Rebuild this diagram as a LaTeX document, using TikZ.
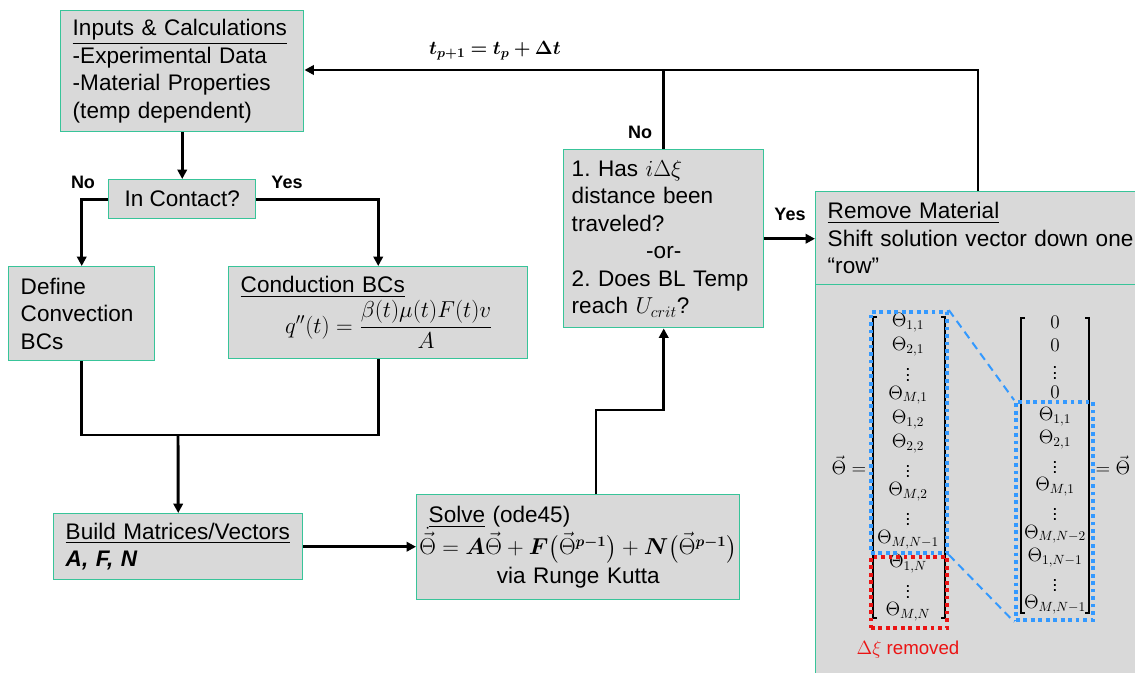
\documentclass[tikz,border=0pt]{standalone}
\usepackage[no-math]{fontspec}
\setmainfont{Liberation Sans}
\usepackage{amsmath,bm}
\usetikzlibrary{arrows.meta,fit,calc}
\definecolor{boxfill}{RGB}{217,217,217}
\definecolor{boxedge}{RGB}{56,196,153}
\definecolor{selblue}{RGB}{51,153,255}
\definecolor{selred}{RGB}{235,20,20}
\newcommand{\midline}[1]{\makebox[\linewidth][c]{#1}}

\begin{document}
\frenchspacing
\begin{tikzpicture}[x=0.75pt,y=-0.75pt,
  box/.style={draw=boxedge, fill=boxfill, line width=1.1pt, anchor=north west,
    inner xsep=9pt, inner ysep=2pt, align=left,
    font=\fontsize{16.9}{20.6}\selectfont},
  link/.style={draw=black, line width=2.2pt},
  arr/.style={link, -{Triangle[length=7pt,width=7pt]}},
  lab/.style={font=\bfseries\fontsize{13.5}{16}\selectfont, inner sep=1pt},
  ent/.style={font=\fontsize{14}{16}\selectfont, inner sep=0pt},
  bracket/.style={draw=black, line width=1.1pt},
  bluedot/.style={draw=selblue, line width=2.8pt, dash pattern=on 2.8pt off 2.8pt, inner sep=0pt},
  reddot/.style={draw=selred, line width=2.8pt, dash pattern=on 2.8pt off 2.8pt, inner sep=0pt},
  bluedash/.style={draw=selblue, line width=1.5pt, dash pattern=on 6pt off 4pt}]

\useasboundingbox (0,0) rectangle (1135,673);
\clip (0,0) rectangle (1135,673);
\fill[white] (0,0) rectangle (1135,673);

% ---- boxes ----
\node[box, minimum width=182.25pt, minimum height=90.75pt, text width=164.25pt] (inp) at (60,10)
  {\underline{Inputs \& Calculations}\\-Experimental Data\\-Material Properties\\(temp dependent)};

\node[box, minimum width=110.25pt, minimum height=29.25pt, align=center] (cont) at (108,179)
  {In Contact?};

\node[box, minimum width=109.5pt, minimum height=70.5pt, text width=91.5pt] (conv) at (8,266)
  {Define\\Convection\\BCs};

\node[box, minimum width=224.25pt, minimum height=69pt, text width=206.25pt] (cond) at (228,266)
  {\underline{Conduction BCs}\\[1pt]
   \midline{\fontsize{18.5}{20}\selectfont\hspace{16pt}$q''(t) = \dfrac{\beta(t)\mu(t)F(t)v}{A}$}};

\node[box, minimum width=186.75pt, minimum height=49.5pt, text width=168.75pt] (build) at (53,513)
  {\underline{Build Matrices/Vectors}\\\textbf{\textit{A, F, N}}};

\node[box, minimum width=242.25pt, minimum height=78.75pt, text width=224.25pt] (solve) at (416,494)
  {\underline{Solve} (ode45)\\[-1pt]
   \midline{\fontsize{16.1}{18}\selectfont$\dot{\vec{\Theta}} = \bm{A}\vec{\Theta} + \bm{F}\bigl(\vec{\Theta}^{\bm{p-1}}\bigr) + \bm{N}\bigl(\vec{\Theta}^{\bm{p-1}}\bigr)$}\\[1pt]
   \midline{via Runge Kutta}};

\node[box, minimum width=150pt, minimum height=133.5pt, inner xsep=6pt, text width=138pt] (dec) at (563,149)
  {1. Has $i\Delta\xi$\\distance been\\traveled?\\\midline{-or-}\\2. Does BL Temp\\reach $U_{crit}$?};

\node[box, minimum width=251.25pt, minimum height=304.5pt] (rem2) at (815,284) {};
\node[box, minimum width=251.25pt, minimum height=69.75pt, text width=233.25pt] (rem) at (815,191)
  {\underline{Remove Material}\\Shift solution vector down one\\“row”};

% ---- connectors ----
\coordinate (top) at (978,70);
\coordinate (rise) at (596,410);
\coordinate (merge) at (178,435);

\draw[arr] (inp.south) -- (cont.north);
\draw[arr] (cont.west) -| (conv.north);
\draw[arr] (cont.east) -| (cond.north);
\draw[link] (conv.south) |- (merge) -| (cond.south);
\draw[arr] (merge) -- (build.north);
\draw[arr] (build.east) -- (build.east -| solve.west);
\draw[arr] (solve.north -| rise) -- (rise) -| (dec.south);
\draw[arr] (dec.east) -- (dec.east -| rem.west);
\draw[arr] (rem.north -| top) -- (top) -- (top -| inp.east);
\draw[link] (dec.north) -- (dec.north |- top);

% ---- labels ----
\node[lab] (noA) at (83,182) {No};
\node[lab] (yesA) at (287,182) {Yes};
\node[lab] (noB) at (640,132) {No};
\node[lab] (yesB) at (790,214) {Yes};
\node[font=\fontsize{14}{16}\selectfont] (step) at (495,51) {$\bm{t_{p+1} = t_p + \Delta t}$};

% ---- solution vector before the shift ----
\draw[bracket] (877,317) -- (873,317) -- (873,618) -- (877,618);
\draw[bracket] (941,317) -- (945,317) -- (945,618) -- (941,618);
\foreach \e [count=\i from 0] in {{\Theta_{1,1}},{\Theta_{2,1}},{\vdots},{\Theta_{M,1}},{\Theta_{1,2}},{\Theta_{2,2}},{\vdots},{\Theta_{M,2}},{\vdots},{\Theta_{M,N-1}},{\Theta_{1,N}},{\vdots},{\Theta_{M,N}}}
  \node[ent] (l\i) at (908,{323+24.08*\i}) {$\e$};

% ---- solution vector after the shift ----
\draw[bracket] (1025,318) -- (1021,318) -- (1021,613) -- (1025,613);
\draw[bracket] (1085,318) -- (1089,318) -- (1089,613) -- (1085,613);
\foreach \e [count=\i from 0] in {{0},{0},{\vdots},{0},{\Theta_{1,1}},{\Theta_{2,1}},{\vdots},{\Theta_{M,1}},{\vdots},{\Theta_{M,N-2}},{\Theta_{1,N-1}},{\vdots},{\Theta_{M,N-1}}}
  \node[ent] (r\i) at (1055,{322+23.58*\i}) {$\e$};

\node[ent] (lhs) at (849,465) {$\vec{\Theta} =$};
\node[ent] (rhs) at (1113,465) {$= \vec{\Theta}$};

% ---- kept and removed blocks ----
\node[bluedot, fit={(871,312) (947,553)}] (keep) {};
\node[reddot, fit={(871,557) (947,628)}] (drop) {};
\node[bluedot, fit={(1016,402) (1093,620)}] (moved) {};
\draw[bluedash] (keep.north east) -- (moved.north west);
\draw[bluedash] (keep.south east) -- (moved.south west);
\node[font=\fontsize{14}{16}\selectfont, text=selred] (droplab) at (908,650) {$\Delta\xi$ removed};
\end{tikzpicture}
\end{document}
